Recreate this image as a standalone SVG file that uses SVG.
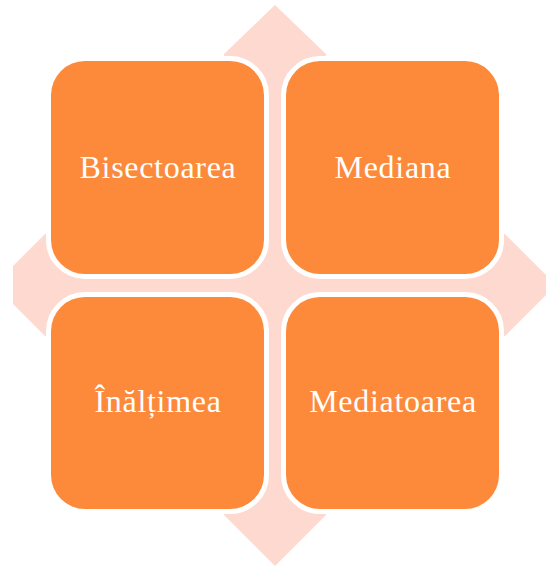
<svg xmlns="http://www.w3.org/2000/svg" width="546" height="567" viewBox="0 0 546 567">
  <style>
    .box { fill: #FD8A3B; stroke: #FFFFFF; stroke-width: 10; paint-order: stroke; }
    .label { font-family: "Liberation Serif", "Times New Roman", serif; font-size: 32px; letter-spacing: 0.7px; fill: #FFFFFF; text-anchor: middle; }
  </style>

  <!-- four-way arrow behind the grid -->
  <g id="connectors">
    <polygon fill="#FED9CF"
      points="275,5 326,54 326,234 505,234 556,285 505,336 326,336 326,515 275,566 224,515 224,336 45,336 13,304 13,266 45,234 224,234 224,54"/>
  </g>

  <g id="bisectoarea">
    <rect class="box" x="51" y="61" width="213" height="213" rx="34" ry="34"/>
    <text class="label" x="158" y="177.5">Bisectoarea</text>
  </g>

  <g id="mediana">
    <rect class="box" x="286" y="61" width="213" height="213" rx="34" ry="34"/>
    <text class="label" x="393" y="177.5">Mediana</text>
  </g>

  <g id="inaltimea">
    <rect class="box" x="51" y="297" width="213" height="212" rx="34" ry="34"/>
    <text class="label" x="158" y="411.5">Înălțimea</text>
  </g>

  <g id="mediatoarea">
    <rect class="box" x="286" y="297" width="213" height="212" rx="34" ry="34"/>
    <text class="label" x="393" y="411.5">Mediatoarea</text>
  </g>
</svg>
